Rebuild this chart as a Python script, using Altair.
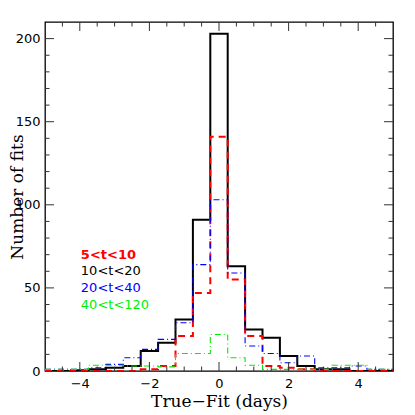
import altair as alt
import pandas as pd

# bin centres (bin width 0.5 days)
centers = [-5.0, -4.5, -4.0, -3.5, -3.0, -2.5, -2.0, -1.5, -1.0, -0.5, 0.0,
           0.5, 1.0, 1.5, 2.0, 2.5, 3.0, 3.5, 4.0, 4.5, 5.0]
red_5_10 = [0, 0, 0, 0, 0, 0, 1, 3, 21, 47, 141, 55, 21, 3, 2, 1, 0, 0, 0, 0, 0]
black_10_20 = [0, 0, 0.5, 1, 2, 3, 12, 17, 31, 91, 203, 63, 25, 20, 9, 3, 1, 1, 0, 0, 0]
blue_20_40 = [1, 1, 1, 2, 4, 8, 13, 19, 29, 64, 103, 59, 15, 10.5, 5, 9, 2, 2, 3, 1, 1]
green_40_120 = [1, 1, 1, 3.5, 3.5, 3, 3, 2.5, 10.5, 10.5, 22, 8, 3.5, 1, 1, 1, 1, 3.5, 3.5, 1, 1]

legend_labels = ["5<t<10", "10<t<20", "20<t<40", "40<t<120"]
legend_colors = ["#ff0000", "#000000", "#0000ff", "#00ee00"]
legend_x = [-3.97, -3.97, -3.97, -3.97]
legend_y = [67.5, 57.5, 47.5, 37.5]

x_major = [-4, -2, 0, 2, 4]
x_minor = [-4.5, -3.5, -3, -2.5, -1.5, -1, -0.5, 0.5, 1, 1.5, 2.5, 3, 3.5, 4.5]
y_major = [50, 100, 150, 200]
y_minor = [10, 20, 30, 40, 60, 70, 80, 90, 110, 120, 130, 140, 160, 170, 180, 190]

W, H = 348, 349
xs = alt.Scale(domain=[-5, 5], nice=False, zero=False)
ys = alt.Scale(domain=[0, 210], nice=False, zero=False)

x_axis = alt.Axis(values=x_major, ticks=False, domain=False, grid=False,
                  labelFont="DejaVu Sans", labelFontSize=13, labelColor="black",
                  labelPadding=6, title="True\u2212Fit (days)", titleFont="DejaVu Serif",
                  titleFontSize=17, titleFontWeight="normal", titleColor="black",
                  titleBaseline="alphabetic", titleY=35, titleX=W / 2, titleAlign="center")
y_axis = alt.Axis(values=[0] + y_major, ticks=False, domain=False, grid=False,
                  labelFont="DejaVu Sans", labelFontSize=13, labelColor="black",
                  labelPadding=5, title="Number of fits", titleFont="DejaVu Serif",
                  titleFontSize=17, titleFontWeight="normal", titleColor="black",
                  titleAngle=270, titleBaseline="middle", titleAlign="center",
                  titleX=-28, titleY=H / 2)

X = alt.X("x:Q", scale=xs, axis=x_axis)
Y = alt.Y("y:Q", scale=ys, axis=y_axis)


def series(vals, color, width, dash=None):
    df = pd.DataFrame({"x": centers, "y": vals})
    kw = dict(color=color, strokeWidth=width, interpolate="step", clip=True)
    if dash:
        kw["strokeDash"] = dash
    return alt.Chart(df).mark_line(**kw).encode(x=X, y=Y)


black_l = series(black_10_20, "#000000", 2.0)
red_l = series(red_5_10, "#ff0000", 2.0, [7, 5])
blue_l = series(blue_20_40, "#0000ff", 1.1, [6, 3, 1, 3])
green_l = series(green_40_120, "#00ee00", 1.1, [6, 3, 1, 3])


# inward ticks
def xticks(vals, length):
    df = pd.DataFrame({"x": vals})
    bot = alt.Chart(df).mark_rule(color="#333", strokeWidth=1).encode(
        x=X, y=alt.value(H), y2=alt.value(H - length))
    top = alt.Chart(df).mark_rule(color="#333", strokeWidth=1).encode(
        x=X, y=alt.value(0), y2=alt.value(length))
    return bot + top


def yticks(vals, length):
    df = pd.DataFrame({"y": vals})
    left = alt.Chart(df).mark_rule(color="#333", strokeWidth=1).encode(
        y=Y, x=alt.value(0), x2=alt.value(length))
    right = alt.Chart(df).mark_rule(color="#333", strokeWidth=1).encode(
        y=Y, x=alt.value(W), x2=alt.value(W - length))
    return left + right


leg = pd.DataFrame({"x": legend_x, "y": legend_y, "t": legend_labels, "c": legend_colors})
leg_bold = alt.Chart(leg.iloc[:1]).mark_text(
    align="left", baseline="alphabetic", font="DejaVu Sans", fontSize=13, fontWeight="bold"
).encode(x=X, y=Y, text="t:N", color=alt.Color("c:N", scale=None))
leg_norm = alt.Chart(leg.iloc[1:]).mark_text(
    align="left", baseline="alphabetic", font="DejaVu Sans", fontSize=13
).encode(x=X, y=Y, text="t:N", color=alt.Color("c:N", scale=None))

chart = alt.layer(
    black_l, red_l, blue_l, green_l,
    xticks(x_major, 9), xticks(x_minor, 4.5),
    yticks(y_major, 9), yticks(y_minor, 4.5),
    leg_bold, leg_norm,
).properties(
    width=W, height=H,
    autosize=alt.AutoSizeParams(type="none"),
    padding={"left": 37, "top": 14, "right": 14, "bottom": 42},
    background="white",
).configure_view(stroke="black", strokeWidth=1.3)

chart.save("out.html", embed_options={"renderer": "svg", "actions": False})
